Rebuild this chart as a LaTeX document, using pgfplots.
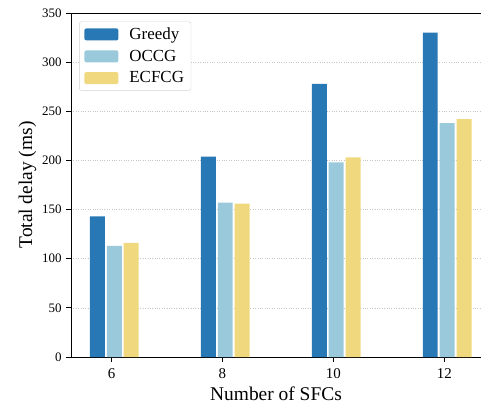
\documentclass[border=0pt]{standalone}
\usepackage{pgfplots}
\pgfplotsset{compat=1.18}
\usepackage{fontspec}
\setmainfont{Liberation Serif}
\definecolor{cGreedy}{HTML}{2878B5}
\definecolor{cOCCG}{HTML}{9AC9DB}
\definecolor{cECFCG}{HTML}{F0D87E}
\begin{document}
\begin{tikzpicture}[x=1bp,y=1bp]
\useasboundingbox (-71,-50) rectangle (410,357);
\begin{axis}[
  at={(0,0)}, anchor=south west,
  width=410bp, height=344bp, scale only axis,
  xmin=5.27, xmax=12.66, ymin=0, ymax=350,
  xtick={6,8,10,12}, ytick={0,50,...,350},
  axis x line*=bottom, axis y line*=left,
  axis line style={black, line width=0.9pt, -},
  tick align=outside, major tick length=5bp,
  tick style={black, line width=0.8pt},
  ymajorgrids, grid style={dotted, gray!45, line width=0.6pt},
  x tick label style={font=\fontsize{15}{17}\selectfont, yshift=-3bp},
  y tick label style={font=\fontsize{13}{15}\selectfont, xshift=-1bp},
  /pgf/number format/assume math mode=true,
  xlabel={Number of SFCs}, ylabel={Total delay (ms)},
  label style={font=\fontsize{19.5}{22}\selectfont},
  xlabel style={yshift=-1bp},
  ylabel style={yshift=-1bp},
  ybar, bar width=0.27,
  legend style={at={(axis description cs:0.02,0.975)}, anchor=north west,
    draw=gray!35, rounded corners=2pt, font=\fontsize{17}{20}\selectfont,
    row sep=5bp, inner xsep=5bp, inner ysep=4bp,
    /tikz/every odd column/.append style={column sep=9bp}},
  legend cell align=left,
  legend image code/.code={\fill[#1] (0bp,-6bp) rectangle (34bp,6bp);},
]
\addplot[fill=cGreedy, draw=none, bar shift=-0.255] coordinates {(6,143) (8,204) (10,278) (12,330)};
\addplot[fill=cOCCG, draw=none, bar shift=0.05] coordinates {(6,113) (8,157) (10,198) (12,238)};
\addplot[fill=cECFCG, draw=none, bar shift=0.355] coordinates {(6,116) (8,156) (10,203) (12,242)};
\legend{Greedy, OCCG, ECFCG}
\draw[black, line width=0.9pt] (rel axis cs:0,1) -- (rel axis cs:1,1);
\end{axis}
\end{tikzpicture}
\end{document}
